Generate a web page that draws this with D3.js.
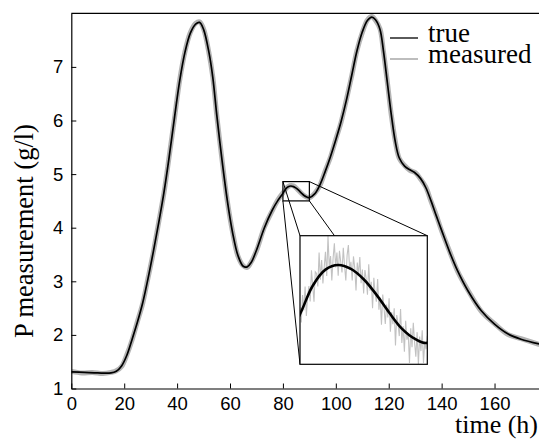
<!DOCTYPE html>
<html>
<head>
<meta charset="utf-8">
<script src="https://cdn.jsdelivr.net/npm/d3@7"></script>
<style>
  html, body { margin: 0; padding: 0; background: #fff; }
  svg { display: block; }
</style>
</head>
<body>
<svg id="chart" width="539" height="439"></svg>
<script>
// ---------------- data ----------------
const xTicks = [0, 20, 40, 60, 80, 100, 120, 140, 160];
const yTicks = [1, 2, 3, 4, 5, 6, 7];
const seriesNames = ["true", "measured"];

const tTrue = [0,5,10,15,17,19,21,23,25,27,29,31,33,35,37,39,41,43,45,47,48.5,50,52,53.5,55,57,59,61,63,65,66.5,68,70,73,76,78,80,81,82,83,84,85,86,87,88,89,90,92,94,96,98,100,102,104,106,108,110,112,113.6,115,116.7,118,119.5,121,122.5,124,126,128,130,132,134,136,138,140,143,146,150,155,160,165,170,177];
const pTrue = [1.31,1.30,1.29,1.29,1.32,1.42,1.62,1.92,2.24,2.60,3.05,3.55,4.08,4.65,5.32,6.05,6.75,7.28,7.63,7.80,7.83,7.70,7.28,6.80,6.10,5.25,4.50,3.90,3.48,3.28,3.27,3.35,3.58,4.00,4.33,4.50,4.64,4.72,4.765,4.778,4.767,4.738,4.695,4.645,4.60,4.572,4.56,4.63,4.80,5.05,5.33,5.64,5.98,6.38,6.84,7.30,7.65,7.87,7.93,7.88,7.70,7.30,6.70,6.10,5.60,5.30,5.15,5.08,5.02,4.92,4.75,4.50,4.22,3.95,3.55,3.20,2.82,2.45,2.20,2.02,1.92,1.83];

// measured (coarse, full range)
const tMeas = [0,4,8,12,15,17,19,21,23,25,27,29,31,33,35,37,39,41,43,45,47,48.5,50,52,53.5,55,57,59,61,63,65,66.5,68,70,73,76,78,80,82,84,86,88,90,92,94,96,98,100,102,104,106,108,110,112,113.6,115,116.7,118,119.5,121,122.5,124,126,128,130,132,134,136,138,140,143,146,150,155,160,165,170,177];
const pMeas = [1.32,1.29,1.30,1.28,1.30,1.33,1.41,1.63,1.91,2.25,2.59,3.06,3.54,4.09,4.64,5.33,6.04,6.76,7.29,7.64,7.81,7.84,7.71,7.27,6.81,6.09,5.26,4.49,3.91,3.47,3.29,3.26,3.36,3.57,4.01,4.32,4.51,4.65,4.77,4.78,4.69,4.60,4.56,4.64,4.79,5.06,5.32,5.65,5.97,6.39,6.83,7.31,7.64,7.88,7.94,7.87,7.71,7.29,6.71,6.09,5.61,5.29,5.16,5.07,5.03,4.91,4.76,4.49,4.23,3.94,3.56,3.19,2.83,2.44,2.21,2.01,1.93,1.82];

// measured (dense samples inside the zoomed window 80..90 h)
const tZoom = d3.range(0, 101).map(i => +(80 + i * 0.1).toFixed(1));
const pZoom = [4.660,4.617,4.694,4.651,4.718,4.635,4.692,4.719,4.676,4.763,
4.720,4.675,4.759,4.754,4.718,4.813,4.737,4.792,4.726,4.771,
4.815,4.747,4.859,4.771,4.803,4.735,4.797,4.839,4.771,4.813,
4.748,4.818,4.787,4.757,4.826,4.776,4.735,4.805,4.834,4.764,
4.787,4.735,4.802,4.770,4.707,4.785,4.752,4.800,4.727,4.765,
4.698,4.764,4.739,4.695,4.780,4.706,4.731,4.657,4.742,4.698,
4.675,4.739,4.653,4.687,4.611,4.695,4.659,4.613,4.667,4.631,
4.685,4.591,4.646,4.612,4.657,4.553,4.638,4.614,4.579,4.655,
4.560,4.607,4.535,4.622,4.569,4.587,4.504,4.601,4.548,4.616,
4.562,4.521,4.590,4.499,4.578,4.537,4.595,4.504,4.563,4.542,
4.580];

const zoomX = [80, 90];
const zoomY = [4.5, 4.86];

// ---------------- drawing ----------------
const svg = d3.select("#chart");
const W = 539, H = 439;
const L = 71.3, R = 539.5, T = 13.3, B = 388.5;

const x = d3.scaleLinear().domain([0, 177]).range([L, R]);
const y = d3.scaleLinear().domain([1, 8]).range([B, T]);

const sans = "'Liberation Sans', Arial, sans-serif";
const serif = "'Liberation Serif', 'Times New Roman', serif";

svg.append("defs").append("clipPath").attr("id", "plotClip")
  .append("rect").attr("x", L).attr("y", T).attr("width", R - L).attr("height", B - T);

const trueData = tTrue.map((t, i) => [t, pTrue[i]]);
const measData = tMeas.map((t, i) => [t, pMeas[i]]);
const zoomData = tZoom.map((t, i) => [t, pZoom[i]]);

const line = d3.line().x(d => x(d[0])).y(d => y(d[1])).curve(d3.curveCatmullRom.alpha(0.5));

const plot = svg.append("g").attr("clip-path", "url(#plotClip)");
plot.append("path").datum(measData).attr("d", line)
  .attr("fill", "none").attr("stroke", "#b4b4b4").attr("stroke-width", 5)
  .attr("stroke-linejoin", "round");
plot.append("path").datum(trueData).attr("d", line)
  .attr("fill", "none").attr("stroke", "#000").attr("stroke-width", 1.7);

// top frame line
svg.append("line").attr("x1", L).attr("x2", W).attr("y1", T).attr("y2", T)
  .attr("stroke", "#000").attr("stroke-width", 1.2);

// axes
const xAxis = d3.axisBottom(x).tickValues(xTicks).tickFormat(d3.format("d"))
  .tickSize(-5).tickSizeOuter(0).tickPadding(8);
const yAxis = d3.axisLeft(y).tickValues(yTicks).tickFormat(d3.format("d"))
  .tickSize(-5).tickSizeOuter(0).tickPadding(8);

const gx = svg.append("g").attr("transform", `translate(0,${B})`).call(xAxis);
const gy = svg.append("g").attr("transform", `translate(${L},0)`).call(yAxis);
[gx, gy].forEach(g => {
  g.select(".domain").attr("stroke", "#000").attr("stroke-width", 1.2);
  g.selectAll(".tick line").attr("stroke", "#000").attr("stroke-width", 1);
  g.selectAll(".tick text").attr("font-family", sans).attr("font-size", 18.5).attr("fill", "#000");
});

// axis titles
svg.append("text").attr("x", 538).attr("y", 433).attr("text-anchor", "end")
  .attr("font-family", serif).attr("font-size", 26).text("time (h)");
svg.append("text").attr("transform", `translate(33,${231}) rotate(-90)`).attr("text-anchor", "middle")
  .attr("font-family", serif).attr("font-size", 26.5).text("P measurement (g/l)");

// legend
const legend = svg.append("g");
const legY = [38, 59];
const legColors = ["#000", "#bdbdbd"];
seriesNames.forEach((n, i) => {
  legend.append("line").attr("x1", 390).attr("x2", 418).attr("y1", legY[i]).attr("y2", legY[i])
    .attr("stroke", legColors[i]).attr("stroke-width", i === 0 ? 1.3 : 2);
  legend.append("text").attr("x", 428).attr("y", legY[i] + 4).attr("font-family", serif)
    .attr("font-size", 27).text(n);
});

// ---------------- inset ----------------
const ix = d3.scaleLinear().domain(zoomX).range([300, 427.3]);
const iy = d3.scaleLinear().domain(zoomY).range([364.3, 235.7]);

const sx0 = x(zoomX[0]), sx1 = x(zoomX[1]), sy0 = y(zoomY[1]), sy1 = y(zoomY[0]);
const bx0 = ix.range()[0], bx1 = ix.range()[1], by0 = iy.range()[1], by1 = iy.range()[0];

const conn = svg.append("g").attr("stroke", "#000").attr("stroke-width", 1);
[[sx0, sy0, bx0, by0], [sx1, sy0, bx1, by0], [sx0, sy1, bx0, by1], [sx1, sy1, bx1, by1]].forEach(c => {
  conn.append("line").attr("x1", c[0]).attr("y1", c[1]).attr("x2", c[2]).attr("y2", c[3]);
});

svg.append("rect").attr("x", sx0).attr("y", sy0).attr("width", sx1 - sx0).attr("height", sy1 - sy0)
  .attr("fill", "none").attr("stroke", "#000").attr("stroke-width", 1.2);

svg.append("rect").attr("x", bx0).attr("y", by0).attr("width", bx1 - bx0).attr("height", by1 - by0)
  .attr("fill", "#fff").attr("stroke", "none");

svg.append("defs").append("clipPath").attr("id", "insetClip")
  .append("rect").attr("x", bx0).attr("y", by0).attr("width", bx1 - bx0).attr("height", by1 - by0);

const iline = d3.line().x(d => ix(d[0])).y(d => iy(d[1]));
const ilineSmooth = d3.line().x(d => ix(d[0])).y(d => iy(d[1])).curve(d3.curveCatmullRom.alpha(0.5));
const inset = svg.append("g").attr("clip-path", "url(#insetClip)");
inset.append("path").datum(zoomData).attr("d", iline)
  .attr("fill", "none").attr("stroke", "#c2c2c2").attr("stroke-width", 1.1);
inset.append("path").datum(trueData.filter(d => d[0] >= 78 && d[0] <= 92)).attr("d", ilineSmooth)
  .attr("fill", "none").attr("stroke", "#000").attr("stroke-width", 2.6);

svg.append("rect").attr("x", bx0).attr("y", by0).attr("width", bx1 - bx0).attr("height", by1 - by0)
  .attr("fill", "none").attr("stroke", "#000").attr("stroke-width", 1.2);
</script>
</body>
</html>
